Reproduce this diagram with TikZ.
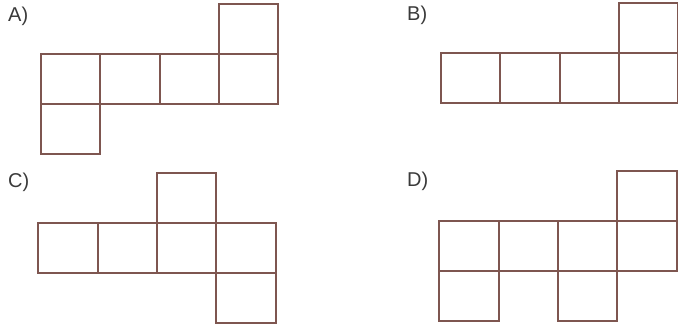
\documentclass[tikz,border=0pt]{standalone}
\usepackage{fontspec}
\setmainfont{Liberation Sans}
\usetikzlibrary{positioning}
\definecolor{edge}{HTML}{7E5650}
\definecolor{ink}{HTML}{3A3A3A}
\tikzset{
  cell/.style={draw=edge,line width=2pt,minimum width=59.3pt,minimum height=50pt,inner sep=0pt,outer sep=0pt},
  tag/.style={anchor=west,inner sep=0pt,text=ink,font=\fontsize{20}{24}\selectfont},
}
\begin{document}
\begin{tikzpicture}[x=1pt,y=-1pt,node distance=0pt]
\useasboundingbox (0,0) rectangle (678,329);
% A)
\node[tag] (labA) at (8,16) {A)};
\node[cell] (a1) at (70.6,79) {};
\node[cell,right=of a1] (a2) {};
\node[cell,right=of a2] (a3) {};
\node[cell,right=of a3] (a4) {};
\node[cell,above=of a4] (a5) {};
\node[cell,below=of a1] (a6) {};
% B)
\node[tag] (labB) at (407,15) {B)};
\node[cell] (b1) at (470.6,78) {};
\node[cell,right=of b1] (b2) {};
\node[cell,right=of b2] (b3) {};
\node[cell,right=of b3] (b4) {};
\node[cell,above=of b4] (b5) {};
% C)
\node[tag] (labC) at (8,182) {C)};
\node[cell] (c1) at (68,247.5) {};
\node[cell,right=of c1] (c2) {};
\node[cell,right=of c2] (c3) {};
\node[cell,right=of c3] (c4) {};
\node[cell,above=of c3] (c5) {};
\node[cell,below=of c4] (c6) {};
% D)
\node[tag] (labD) at (407,181) {D)};
\node[cell] (d1) at (469,245.5) {};
\node[cell,right=of d1] (d2) {};
\node[cell,right=of d2] (d3) {};
\node[cell,right=of d3] (d4) {};
\node[cell,above=of d4] (d5) {};
\node[cell,below=of d1] (d6) {};
\node[cell,below=of d3] (d7) {};
\end{tikzpicture}
\end{document}
